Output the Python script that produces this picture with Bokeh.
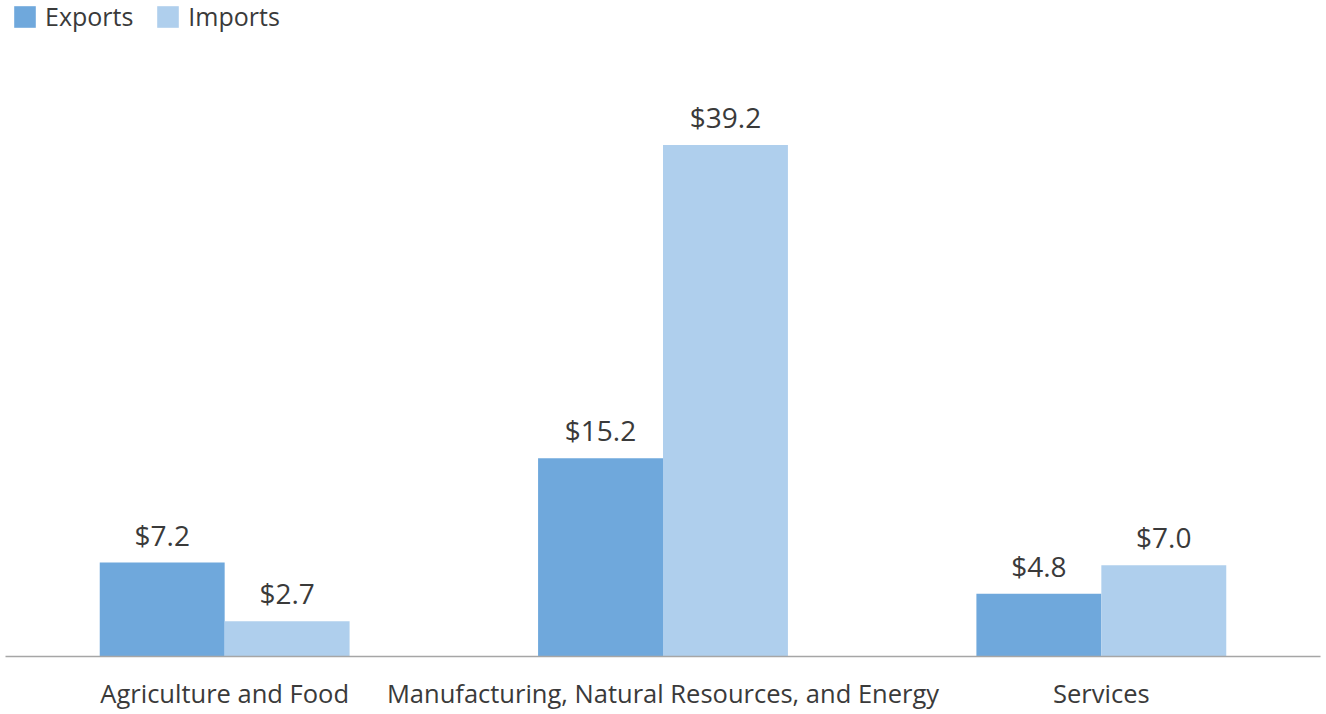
from bokeh.plotting import figure
from bokeh.models import ColumnDataSource, FactorRange, Range1d, Legend, LegendItem
from bokeh.transform import dodge
from bokeh.core.properties import value
from bokeh.embed import file_html
from bokeh.resources import INLINE

categories = ["Agriculture and Food", "Manufacturing, Natural Resources, and Energy", "Services"]
exports = [7.2, 15.2, 4.8]
imports = [2.7, 39.2, 7.0]
series_names = ["Exports", "Imports"]

FONT = "Open Sans"
TXT = "#3a3a3a"
C_EXP = "#6fa8dc"
C_IMP = "#afcfed"

src = ColumnDataSource(dict(
    cat=categories,
    exp=exports,
    imp=imports,
    exp_lbl=["$%.1f" % v for v in exports],
    imp_lbl=["$%.1f" % v for v in imports],
))

p = figure(
    width=1326, height=714,
    x_range=FactorRange(factors=categories, range_padding=0),
    y_range=Range1d(0, 50.27),
    output_backend="svg", toolbar_location=None,
    min_border_left=5, min_border_right=6, min_border_top=0, min_border_bottom=58,
)
p.outline_line_color = None
p.background_fill_color = "white"
p.border_fill_color = "white"
p.xgrid.visible = False
p.ygrid.visible = False
p.yaxis.visible = False

bw = 0.285
r1 = p.vbar(x=dodge("cat", -bw / 2, range=p.x_range), top="exp", width=bw, source=src,
            fill_color=C_EXP, line_color=None)
r2 = p.vbar(x=dodge("cat", bw / 2, range=p.x_range), top="imp", width=bw, source=src,
            fill_color=C_IMP, line_color=None)

for col, lbl, off in (("exp", "exp_lbl", -bw / 2), ("imp", "imp_lbl", bw / 2)):
    p.text(x=dodge("cat", off, range=p.x_range), y=col, text=lbl, source=src,
           text_align="center", text_baseline="alphabetic", y_offset=-28,
           text_font=value(FONT), text_font_size="28px", text_color=TXT)

ax = p.xaxis[0]
ax.axis_line_color = "#a6a6a6"
ax.axis_line_width = 1.5
ax.major_tick_line_color = None
ax.minor_tick_line_color = None
ax.major_label_text_font = FONT
ax.major_label_text_font_size = "25.5px"
ax.major_label_text_color = TXT
ax.major_label_standoff = 13

legend = Legend(
    items=[LegendItem(label=series_names[0], renderers=[r1]),
           LegendItem(label=series_names[1], renderers=[r2])],
    location=(6, 623), orientation="horizontal",
    glyph_width=27, glyph_height=27, label_standoff=7, spacing=21,
    padding=0, margin=0,
    label_text_font=FONT, label_text_font_size="25px", label_text_color=TXT,
    border_line_alpha=0, background_fill_alpha=0,
)
p.add_layout(legend)

open("out.html", "w").write(file_html(p, INLINE))
